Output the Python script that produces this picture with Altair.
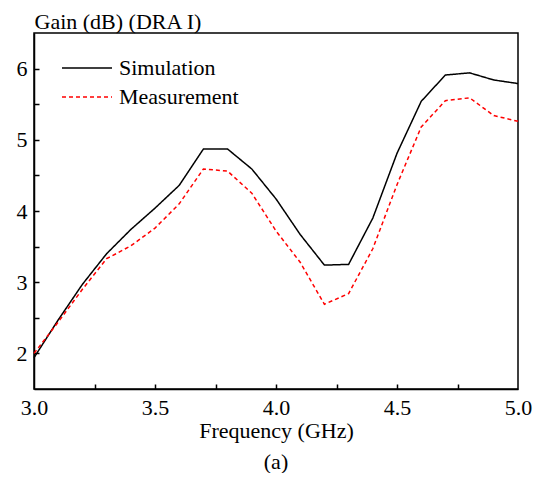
import altair as alt
import pandas as pd

freq = [3.0, 3.1, 3.2, 3.3, 3.4, 3.5, 3.6, 3.7, 3.8, 3.9, 4.0,
        4.1, 4.2, 4.3, 4.4, 4.5, 4.6, 4.7, 4.8, 4.9, 5.0]
sim = [1.94, 2.47, 2.97, 3.40, 3.74, 4.04, 4.36, 4.87, 4.87, 4.59, 4.17,
       3.67, 3.24, 3.25, 3.90, 4.81, 5.54, 5.91, 5.94, 5.84, 5.79]
meas = [2.00, 2.44, 2.90, 3.33, 3.51, 3.76, 4.10, 4.59, 4.56, 4.25, 3.72,
        3.28, 2.69, 2.84, 3.47, 4.37, 5.18, 5.55, 5.59, 5.34, 5.26]
series = ["Simulation", "Measurement"]

x_labels = [3.0, 3.5, 4.0, 4.5, 5.0]
x_minor = [3.25, 3.5, 3.75, 4.0, 4.25, 4.5, 4.75]
y_labels = [2, 3, 4, 5, 6]
y_minor = [2.0, 2.5, 3.0, 3.5, 4.0, 4.5, 5.0, 5.5, 6.0]

rows = []
for f, s, m in zip(freq, sim, meas):
    rows.append({"freq": f, "gain": s, "series": series[0]})
    rows.append({"freq": f, "gain": m, "series": series[1]})
df = pd.DataFrame(rows)

FONT = "Liberation Serif, Times New Roman, serif"
W, H = 484, 356

xscale = alt.Scale(domain=[3.0, 5.0], nice=False, zero=False)
yscale = alt.Scale(domain=[1.5, 6.5], nice=False, zero=False)

legend = alt.Legend(
    title=None, orient="none", legendX=27, legendY=20.5,
    symbolType="stroke", symbolSize=2500, symbolStrokeWidth=1.5,
    labelFont=FONT, labelFontSize=22, labelColor="black",
    labelOffset=6, clipHeight=29, rowPadding=0, padding=0,
)

lines = alt.Chart(df).mark_line(strokeWidth=1.5).encode(
    x=alt.X("freq:Q", scale=xscale, axis=alt.Axis(
        orient="bottom", values=x_labels, format=".1f", ticks=False, grid=False,
        domainColor="black", domainWidth=1.5,
        labelFont=FONT, labelFontSize=22, labelColor="black", labelPadding=8,
        labelFlush=False,
        title="Frequency (GHz)", titleFont=FONT, titleFontSize=22,
        titleFontWeight="normal", titleColor="black", titlePadding=2)),
    y=alt.Y("gain:Q", scale=yscale, axis=alt.Axis(
        orient="left", values=y_labels, format="d", ticks=False, grid=False,
        domainColor="black", domainWidth=1.5,
        labelFont=FONT, labelFontSize=22, labelColor="black", labelPadding=7,
        labelFlush=False,
        title="Gain (dB) (DRA I)", titleFont=FONT, titleFontSize=22,
        titleFontWeight="normal", titleColor="black", titleAngle=0,
        titleAlign="left", titleBaseline="alphabetic", titleX=0, titleY=-5)),
    color=alt.Color("series:N", scale=alt.Scale(domain=series, range=["black", "red"]),
                    legend=legend),
    strokeDash=alt.StrokeDash("series:N",
                              scale=alt.Scale(domain=series, range=[[1, 0], [4, 3]]),
                              legend=legend),
)

ticks_layer = alt.Chart(df).mark_line(opacity=0).encode(
    x=alt.X("freq:Q", scale=xscale, axis=alt.Axis(
        orient="top", offset=-H, values=x_minor, labels=False, domain=False,
        ticks=True, tickSize=5, tickColor="black", tickWidth=1.5, grid=False, title=None)),
    y=alt.Y("gain:Q", scale=yscale, axis=alt.Axis(
        orient="right", offset=-W, values=y_minor, labels=False, domain=False,
        ticks=True, tickSize=5, tickColor="black", tickWidth=1.5, grid=False, title=None)),
)

chart = alt.layer(lines, ticks_layer).resolve_axis(
    x="independent", y="independent"
).properties(
    width=W, height=H,
    title=alt.Title("(a)", orient="bottom", anchor="middle", font=FONT, fontSize=22,
                    fontWeight="normal", color="black", offset=11),
    autosize=alt.AutoSizeParams(type="none"),
    padding={"left": 26, "top": 25, "right": 18, "bottom": 84},
).configure_view(stroke="black", strokeWidth=1.5)

chart.save("out.html", embed_options={"renderer": "svg", "actions": False})
